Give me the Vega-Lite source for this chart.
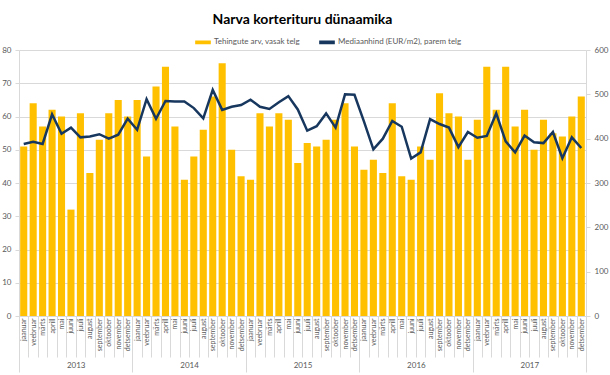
{
  "$schema": "https://vega.github.io/schema/vega-lite/v6.json",
  "autosize": {"type": "none"},
  "width": 567,
  "height": 266,
  "padding": {"left": 19, "top": 50, "right": 24, "bottom": 59},
  "background": "white",
  "config": {
    "font": "Lato",
    "view": {"stroke": null},
    "axis": {"labelColor": "#595959", "labelFont": "Lato", "titleFont": "Lato"}
  },
  "title": {"text": "Narva korterituru dünaamika", "fontSize": 14, "fontWeight": "bold", "font": "Lato", "color": "#000000", "anchor": "middle", "offset": 7},
  "data": {"values": [
    {"k":"jaanuar|2013","yr":"2013","n":51,"p":388},
    {"k":"veebruar|2013","yr":"2013","n":64,"p":393},
    {"k":"märts|2013","yr":"2013","n":57,"p":388},
    {"k":"aprill|2013","yr":"2013","n":62,"p":455},
    {"k":"mai|2013","yr":"2013","n":60,"p":411},
    {"k":"juuni|2013","yr":"2013","n":32,"p":425},
    {"k":"juuli|2013","yr":"2013","n":61,"p":403},
    {"k":"august|2013","yr":"2013","n":43,"p":405},
    {"k":"september|2013","yr":"2013","n":53,"p":410},
    {"k":"oktoober|2013","yr":"2013","n":61,"p":400},
    {"k":"november|2013","yr":"2013","n":65,"p":409},
    {"k":"detsember|2013","yr":"2013","n":60,"p":445},
    {"k":"jaanuar|2014","yr":"2014","n":65,"p":420},
    {"k":"veebruar|2014","yr":"2014","n":48,"p":489},
    {"k":"märts|2014","yr":"2014","n":69,"p":445},
    {"k":"aprill|2014","yr":"2014","n":75,"p":485},
    {"k":"mai|2014","yr":"2014","n":57,"p":484},
    {"k":"juuni|2014","yr":"2014","n":41,"p":484},
    {"k":"juuli|2014","yr":"2014","n":48,"p":469},
    {"k":"august|2014","yr":"2014","n":56,"p":446},
    {"k":"september|2014","yr":"2014","n":66,"p":510},
    {"k":"oktoober|2014","yr":"2014","n":76,"p":465},
    {"k":"november|2014","yr":"2014","n":50,"p":472},
    {"k":"detsember|2014","yr":"2014","n":42,"p":476},
    {"k":"jaanuar|2015","yr":"2015","n":41,"p":488},
    {"k":"veebruar|2015","yr":"2015","n":61,"p":472},
    {"k":"märts|2015","yr":"2015","n":57,"p":467},
    {"k":"aprill|2015","yr":"2015","n":61,"p":482},
    {"k":"mai|2015","yr":"2015","n":59,"p":496},
    {"k":"juuni|2015","yr":"2015","n":46,"p":466},
    {"k":"juuli|2015","yr":"2015","n":52,"p":418},
    {"k":"august|2015","yr":"2015","n":51,"p":428},
    {"k":"september|2015","yr":"2015","n":53,"p":457},
    {"k":"oktoober|2015","yr":"2015","n":59,"p":425},
    {"k":"november|2015","yr":"2015","n":64,"p":500},
    {"k":"detsember|2015","yr":"2015","n":51,"p":499},
    {"k":"jaanuar|2016","yr":"2016","n":44,"p":439},
    {"k":"veebruar|2016","yr":"2016","n":47,"p":376},
    {"k":"märts|2016","yr":"2016","n":43,"p":400},
    {"k":"aprill|2016","yr":"2016","n":64,"p":440},
    {"k":"mai|2016","yr":"2016","n":42,"p":427},
    {"k":"juuni|2016","yr":"2016","n":41,"p":355},
    {"k":"juuli|2016","yr":"2016","n":51,"p":369},
    {"k":"august|2016","yr":"2016","n":47,"p":444},
    {"k":"september|2016","yr":"2016","n":67,"p":433},
    {"k":"oktoober|2016","yr":"2016","n":61,"p":425},
    {"k":"november|2016","yr":"2016","n":60,"p":381},
    {"k":"detsember|2016","yr":"2016","n":47,"p":415},
    {"k":"jaanuar|2017","yr":"2017","n":59,"p":402},
    {"k":"veebruar|2017","yr":"2017","n":75,"p":406},
    {"k":"märts|2017","yr":"2017","n":62,"p":457},
    {"k":"aprill|2017","yr":"2017","n":75,"p":394},
    {"k":"mai|2017","yr":"2017","n":57,"p":369},
    {"k":"juuni|2017","yr":"2017","n":62,"p":407},
    {"k":"juuli|2017","yr":"2017","n":50,"p":392},
    {"k":"august|2017","yr":"2017","n":59,"p":390},
    {"k":"september|2017","yr":"2017","n":55,"p":415},
    {"k":"oktoober|2017","yr":"2017","n":54,"p":356},
    {"k":"november|2017","yr":"2017","n":60,"p":403},
    {"k":"detsember|2017","yr":"2017","n":66,"p":379}
  ]},
  "layer": [
    {
      "layer": [
        {
          "mark": {"type": "bar", "width": {"band": 0.75}},
          "encoding": {
            "x": {"field": "k", "type": "ordinal", "sort": null,
              "scale": {"type": "band", "paddingInner": 0, "paddingOuter": 0},
              "axis": {"orient": "bottom", "title": null, "labelExpr": "split(datum.label, '|')[0]", "labelAngle": -90, "labelAlign": "right", "labelBaseline": "middle", "labelFontSize": 7, "labelPadding": -39, "tickBand": "extent", "tickSize": 41, "tickColor": "#D9D9D9", "domainColor": "#D9D9D9", "labelOverlap": false}},
            "y": {"field": "n", "type": "quantitative",
              "scale": {"domain": [0, 80]},
              "axis": {"orient": "left", "title": null, "values": [0,10,20,30,40,50,60,70,80], "labelFontSize": 8, "gridColor": "#D9D9D9", "domainColor": "#D9D9D9", "tickColor": "#D9D9D9", "tickSize": 4, "labelPadding": 4}},
            "color": {"datum": "Tehingute arv, vasak telg", "type": "nominal",
              "scale": {"domain": ["Tehingute arv, vasak telg", "Mediaanhind (EUR/m2), parem telg"], "range": ["#FFC000", "#17375E"]},
              "legend": {"orient": "none", "legendX": 176, "legendY": -16, "direction": "horizontal", "title": null, "labelFontSize": 8, "labelColor": "#595959", "labelFont": "Lato", "symbolType": "M-1,-0.17H1V0.17H-1Z", "symbolSize": 200, "columnPadding": 16, "labelOffset": 3,
                "encode": {"symbols": {"update": {"fill": {"scale": "color", "field": "value"}, "stroke": {"value": "transparent"}, "opacity": {"value": 1}}}}}}
          }
        },
        {
          "mark": {"type": "line", "strokeWidth": 2.5},
          "encoding": {
            "x": {"field": "k", "type": "ordinal", "sort": null},
            "y": {"field": "p", "type": "quantitative",
              "scale": {"domain": [0, 600]},
              "axis": {"orient": "right", "title": null, "values": [0,100,200,300,400,500,600], "grid": false, "labelFontSize": 8, "domainColor": "#D9D9D9", "tickColor": "#D9D9D9", "tickSize": 4, "labelPadding": 4}},
            "color": {"datum": "Mediaanhind (EUR/m2), parem telg", "type": "nominal"}
          }
        }
      ],
      "resolve": {"scale": {"y": "independent"}}
    },
    {
      "mark": {"type": "point", "opacity": 0},
      "encoding": {
        "x": {"field": "yr", "type": "ordinal",
          "scale": {"type": "band", "paddingInner": 0, "paddingOuter": 0},
          "axis": {"orient": "bottom", "title": null, "labelAngle": 0, "labelFontSize": 8, "labelColor": "#595959", "tickBand": "extent", "tickSize": 56, "tickColor": "#D9D9D9", "labelPadding": -11, "domain": false}}
      }
    }
  ],
  "resolve": {"scale": {"x": "independent", "y": "independent"}}
}
